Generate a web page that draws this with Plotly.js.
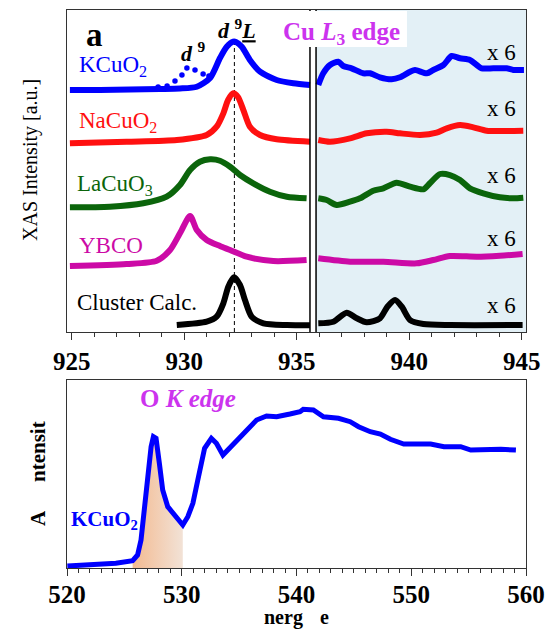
<!DOCTYPE html>
<html><head><meta charset="utf-8">
<script src="https://cdn.plot.ly/plotly-3.0.1.min.js"></script>
<style>html,body{margin:0;padding:0;background:#fff}</style>
</head><body><div id="chart" style="width:551px;height:629px"></div>
<script>
// ---------- Cu L3 edge (top panel), energy in eV, intensity in arbitrary offset units ----------
const kLeftE  = [924.92, 926.26, 927.59, 928.92, 929.81, 930.56, 931.15, 931.59, 931.89, 932.18, 932.30, 932.56, 932.92, 933.37, 934.11, 934.85, 935.59];
const kLeftI  = [242, 242, 242.5, 243, 243.5, 245.3, 254, 274, 285.3, 290.3, 290, 285.3, 272, 260.3, 252, 248.7, 247];
const kD9E    = [928.84, 929.24, 929.59, 929.90, 930.12, 930.48, 930.84, 931.10];
const kD9I    = [245, 246, 251, 257, 264, 262, 258, 256];
const kRightE = [935.96, 936.18, 936.48, 936.85, 937.07, 937.44, 937.96, 938.26, 938.70, 939.22, 939.59, 940.04, 940.26, 940.78, 941.07, 941.52, 941.89, 942.26, 942.70, 943.0, 943.22, 943.74, 944.33, 944.63, 944.92, 945.1];
const kRightI = [247, 258.7, 267, 270.3, 266, 263.7, 258.7, 258.7, 254.7, 252.7, 254.7, 260.3, 262, 258.7, 262, 267, 276, 273.7, 272, 267, 263.7, 263.7, 263.7, 262, 262, 262];

const naLeftE  = [924.92, 927.44, 929.67, 931.0, 931.44, 931.74, 931.95, 932.18, 932.39, 932.63, 932.92, 933.37, 934.11, 935.59];
const naLeftI  = [188.7, 190.3, 192, 197, 205.3, 218.7, 232, 238.7, 235, 222, 205.3, 197, 192.7, 190.3];
const naRightE = [935.96, 936.48, 937.37, 938.11, 939.0, 939.59, 940.48, 941.22, 941.67, 942.26, 942.85, 943.44, 944.33, 945.07];
const naRightI = [192, 190.3, 193.7, 198.7, 200.3, 198.7, 197, 199.3, 203.7, 207, 204.7, 201.3, 201, 201.3];

const laLeftE  = [924.92, 926.70, 928.18, 929.22, 929.81, 930.26, 930.70, 931.15, 931.59, 932.04, 932.48, 933.07, 933.81, 934.56, 935.44];
const laLeftI  = [124.7, 125.3, 128.7, 135.3, 147, 162, 170.3, 172.7, 171.3, 165.3, 157, 148.7, 140.3, 135.3, 133.7];
const laRightE = [935.96, 936.33, 936.78, 937.37, 937.81, 938.40, 938.85, 939.44, 940.04, 940.63, 940.92, 941.37, 941.81, 942.26, 942.70, 943.29, 944.03, 944.63, 945.07];
const laRightI = [133.7, 132, 127, 130.3, 133.7, 141.3, 143.7, 149.3, 145.3, 142.7, 148.7, 158, 157, 152, 143.7, 138.7, 134.7, 133.7, 134.3];

const ybLeftE  = [924.92, 927.44, 928.78, 929.37, 929.81, 930.26, 930.56, 931.0, 931.59, 932.04, 932.78, 933.96, 935.44];
const ybLeftI  = [66, 68, 71.3, 82, 98.7, 116, 102, 92, 86, 82, 75.3, 71, 72];
const ybRightE = [935.96, 937.37, 938.85, 940.33, 941.07, 941.81, 943.0, 944.03, 945.04];
const ybRightI = [73.7, 70.3, 70.3, 68.7, 72, 76, 75.3, 76.3, 78];

const clLeftE  = [929.67, 931.0, 931.44, 931.74, 931.96, 932.21, 932.48, 932.70, 933.0, 933.52, 934.56, 935.59];
const clLeftI  = [7, 10.3, 15.3, 28.7, 45.3, 54.7, 47, 32, 15.3, 8.7, 7, 6.7];
const clRightE = [935.96, 936.63, 937.22, 937.67, 938.11, 938.70, 939.03, 939.37, 939.67, 940.04, 940.63, 941.81, 945.04];
const clRightI = [8.7, 10.3, 19.3, 13.7, 9.7, 13.7, 25.3, 32, 25.3, 12, 8, 7, 7];

const d9LPeakE = 932.23;
const d9LLineI = [0, 288];
const breakE = [935.59, 935.86];

const seriesNames = ['KCuO<sub>2</sub>', 'NaCuO<sub>2</sub>', 'LaCuO<sub>3</sub>', 'YBCO', 'Cluster Calc.'];
const scaleLabel = 'x 6';
const topTicks = [925, 930, 935, 940, 945];

// ---------- O K edge (bottom panel) ----------
const oE = [520.03, 522.8, 524.26, 525.72, 526.15, 526.45, 526.74, 527.03, 527.33, 527.53, 527.76, 528.05, 528.34, 528.78, 529.22, 529.65, 530.09, 530.53, 530.97, 531.40, 531.99, 532.58, 533.02, 533.59, 534.18, 534.77, 535.64, 536.52, 537.39, 538.27, 539.43, 540.31, 540.59, 541.47, 542.35, 543.66, 544.68, 545.41, 546.43, 547.31, 548.18, 549.35, 550.22, 551.69, 552.85, 554.31, 555.19, 556.65, 557.81, 559.12];
const oI = [2, 3, 4.7, 7.3, 13, 28, 58, 91.3, 121.3, 131.3, 129.7, 104.7, 78, 61.3, 54.7, 48, 43, 51.3, 64.7, 88, 119.7, 129.7, 124.7, 113, 119.7, 128, 136.3, 148, 152, 151.3, 154, 156.3, 158.7, 158, 151.3, 149.7, 146.3, 141.3, 136.3, 134, 128.7, 124, 124, 124, 121.3, 121.3, 118, 118.7, 118.7, 118];
const shadeRange = [525.5, 530.1];
const bottomTicks = [520, 530, 540, 550, 560];

const FONT = 'Liberation Serif';
const C = {blue:'#0000ff', red:'#ff1010', green:'#0b650b', mag:'#cc0aa6', black:'#000000', violet:'#cc33ee'};

function line(x, y, color, w, xa, ya) {
  return {x:x, y:y, type:'scatter', mode:'lines', xaxis:xa||'x', yaxis:ya||'y',
    line:{color:color, width:w||6, shape:'spline', smoothing:0.7}, hoverinfo:'skip', showlegend:false};
}

const shadeE = [], shadeI = [];
oE.forEach((e,i)=>{ if (e>=shadeRange[0] && e<=shadeRange[1]) { shadeE.push(e); shadeI.push(oI[i]); } });

const traces = [
  {x:[d9LPeakE, d9LPeakE], y:d9LLineI, type:'scatter', mode:'lines', line:{color:'#000', width:1, dash:'4px,3px'}, hoverinfo:'skip', showlegend:false},
  line(kLeftE, kLeftI, C.blue), line(kRightE, kRightI, C.blue),
  {x:kD9E, y:kD9I, type:'scatter', mode:'markers', marker:{color:C.blue, size:5.5}, hoverinfo:'skip', showlegend:false},
  line(naLeftE, naLeftI, C.red), line(naRightE, naRightI, C.red),
  line(laLeftE, laLeftI, C.green), line(laRightE, laRightI, C.green),
  line(ybLeftE, ybLeftI, C.mag), line(ybRightE, ybRightI, C.mag),
  line(clLeftE, clLeftI, C.black), line(clRightE, clRightI, C.black),
  {x:shadeE, y:shadeI, type:'scatter', mode:'none', xaxis:'x2', yaxis:'y2', fill:'tozeroy',
    fillgradient:{type:'horizontal', colorscale:[[0,'rgb(243,186,145)'],[1,'rgb(242,226,214)']]},
    hoverinfo:'skip', showlegend:false},
  {x:oE, y:oI, type:'scatter', mode:'lines', xaxis:'x2', yaxis:'y2', line:{color:C.blue, width:5}, hoverinfo:'skip', showlegend:false}
];

const axisCommon = {showline:true, mirror:true, linecolor:'#333', linewidth:1, showgrid:false, zeroline:false};
const tickFont = {family:FONT, size:25, color:'#000', weight:'bold'};

const ann = [];
function A(o){ ann.push(Object.assign({showarrow:false, xref:'x', yref:'y', xanchor:'center', yanchor:'middle'}, o)); }
A({x:926.03, y:297, text:'<b>a</b>', font:{family:FONT, size:33, color:'#000'}});
A({x:932.35, y:303, text:'<b><i>d</i> <sup>9</sup><i><u>L</u></i></b>', font:{family:FONT, size:22, color:'#000'}});
A({x:930.43, y:280, text:'<b><i>d</i> <sup>9</sup></b>', font:{family:FONT, size:22, color:'#000'}});
A({x:936.97, y:299, text:'<b>Cu <i>L</i><sub>3</sub> edge</b>', font:{family:FONT, size:25, color:C.violet}});
const labColors = [C.blue, C.red, C.green, C.mag, C.black];
const labY = [266, 210, 147, 87, 30];
const labX = [925.235, 925.235, 925.146, 925.235, 925.146];
seriesNames.forEach((t,i)=>A({x:labX[i], y:labY[i], xanchor:'left', text:t, font:{family:FONT, size:23, color:labColors[i]}}));
[280, 224, 157, 94, 27].forEach(v=>A({x:944.84, y:v, xanchor:'right', text:scaleLabel, font:{family:FONT, size:23, color:'#000'}}));
A({x:530.54, y:170, xref:'x2', yref:'y2', text:'<b>O <i>K edge</i></b>', font:{family:FONT, size:25, color:C.violet}});
A({x:523.31, y:48, xref:'x2', yref:'y2', text:'<b>KCuO<sub>2</sub></b>', font:{family:FONT, size:21, color:C.blue}});
// axis titles
A({xref:'paper', yref:'paper', x:(30-67)/459, y:(568-160)/558, textangle:-90, text:'XAS Intensity [a.u.]', font:{family:FONT, size:20, color:'#000'}});
A({xref:'paper', yref:'paper', x:(38-67)/459, y:(568-518)/558, textangle:-90, text:'<b>A</b>', font:{family:FONT, size:21, color:'#000'}});
A({xref:'paper', yref:'paper', x:(38-67)/459, y:(568-452)/558, textangle:-90, text:'<b>ntensit</b>', font:{family:FONT, size:21, color:'#000'}});
A({xref:'paper', yref:'paper', x:(283-67)/459, y:(568-617)/558, text:'<b>nerg</b>', font:{family:FONT, size:20, color:'#000'}});
A({xref:'paper', yref:'paper', x:(324-67)/459, y:(568-617)/558, text:'<b>e</b>', font:{family:FONT, size:20, color:'#000'}});

const layout = {
  width:551, height:629, margin:{l:67, r:25, t:10, b:61},
  paper_bgcolor:'#fff', plot_bgcolor:'#fff', showlegend:false,
  xaxis: Object.assign({}, axisCommon, {anchor:'y', domain:[0,1], range:[924.791, 945.191],
    tickvals:topTicks, ticks:'outside', ticklen:7, tickcolor:'#333', tickfont:tickFont,
    minor:{dtick:1, tick0:925, ticks:'outside', ticklen:4, tickcolor:'#333'}}),
  yaxis: Object.assign({}, axisCommon, {anchor:'x', domain:[0.4229, 1], range:[0, 322], showticklabels:false, ticks:''}),
  xaxis2: Object.assign({}, axisCommon, {anchor:'y2', domain:[0,1], range:[520, 560],
    tickvals:bottomTicks, ticks:'outside', ticklen:7, tickcolor:'#333', tickfont:tickFont, ticklabelstandoff:-3,
    minor:{dtick:1, tick0:520, ticks:'outside', ticklen:4, tickcolor:'#333'}}),
  yaxis2: Object.assign({}, axisCommon, {anchor:'x2', domain:[0, 0.3369], range:[0, 188], showticklabels:false, ticks:''}),
  shapes:[
    {type:'rect', xref:'x', yref:'y', x0:breakE[1], x1:945.191, y0:0, y1:322, fillcolor:'#e3f0f6', line:{width:0}, layer:'below'},
    {type:'line', xref:'x', yref:'y', x0:breakE[0], x1:breakE[0], y0:0, y1:322, line:{color:'#000', width:1.5}, layer:'above'},
    {type:'line', xref:'x', yref:'y', x0:breakE[1], x1:breakE[1], y0:0, y1:322, line:{color:'#000', width:1.5}, layer:'above'},
    {type:'rect', xref:'x', yref:'y', x0:934.04, x1:939.90, y0:285, y1:321, fillcolor:'#fff', line:{width:0}, layer:'above'}
  ],
  annotations: ann
};

Plotly.newPlot('chart', traces, layout, {staticPlot:true, displayModeBar:false});
</script>
</body></html>
